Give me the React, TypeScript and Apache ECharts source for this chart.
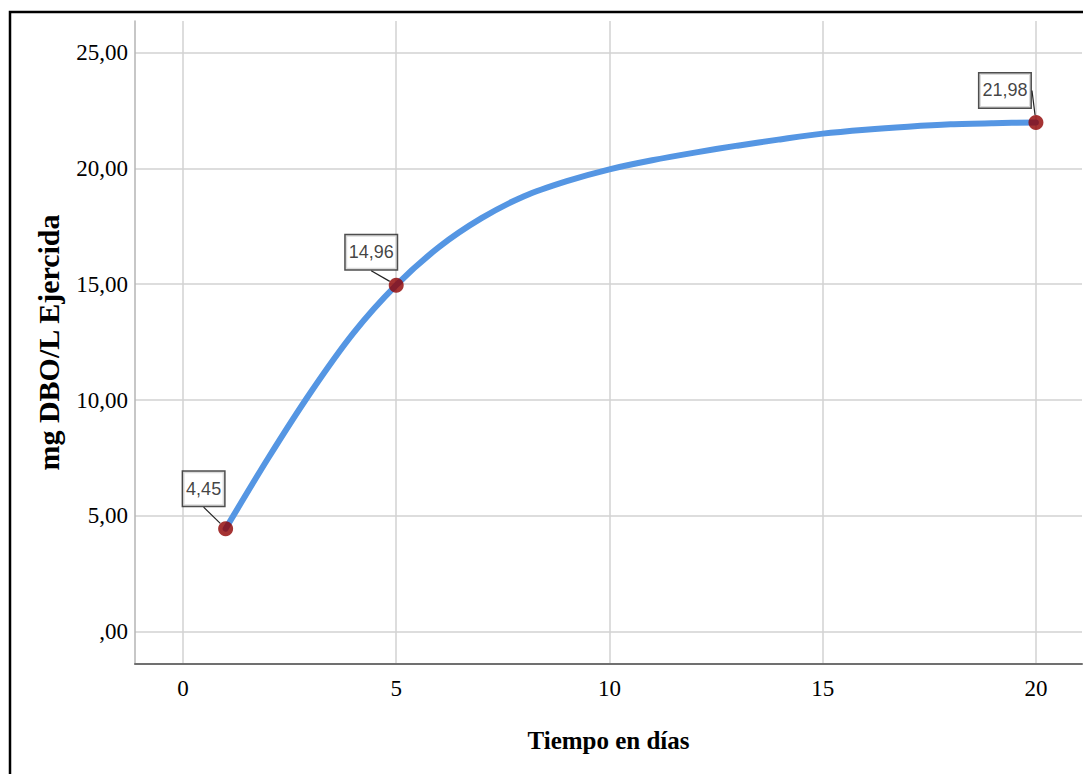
import React, { useEffect, useRef } from "react";
import * as echarts from "echarts";

// Measured points (días, mg DBO/L)
const pointDays = [1, 5, 20];
const pointValues = [4.45, 14.96, 21.98];

// Fitted curve
const curveDays = [1, 2, 3, 4, 5, 6, 7, 8, 9, 10, 11, 12, 13, 14, 15, 16, 17, 18, 19, 20];
const curveValues = [
  4.45, 7.5, 10.35, 12.9, 14.96, 16.6, 17.85, 18.8, 19.45, 19.96,
  20.35, 20.68, 20.98, 21.25, 21.5, 21.67, 21.8, 21.9, 21.95, 21.98,
];

// Tick labels
const xTicks = [0, 5, 10, 15, 20];
const yTicks = [0, 5, 10, 15, 20, 25];

const xName = "Tiempo en días";
const yName = "mg DBO/L Ejercida";

// label offsets (layout only)
const labelOffsets = [
  [-22, -40],
  [-25, -33],
  [-31, -32],
];

const fmt = (v: number) => {
  const s = v.toFixed(2).replace(".", ",");
  return s.startsWith("0,") ? s.slice(1) : s;
};

export default function App() {
  const ref = useRef<HTMLDivElement>(null);
  useEffect(() => {
    if (!ref.current) return;
    const chart = echarts.init(ref.current, undefined, { renderer: "svg" });
    const serif = "'Liberation Serif', 'Times New Roman', serif";
    chart.setOption({
      animation: false,
      backgroundColor: "#ffffff",
      grid: { left: 135, top: 21, right: 1, bottom: 110, containLabel: false },
      xAxis: {
        type: "value",
        min: -1.125,
        max: 21.08,
        name: xName,
        nameLocation: "middle",
        nameGap: 64,
        nameTextStyle: { fontFamily: serif, fontSize: 25, fontWeight: "bold", color: "#000" },
        axisLine: { show: true, onZero: false, lineStyle: { color: "#707070", width: 2 } },
        axisTick: { show: false, customValues: xTicks },
        axisLabel: {
          customValues: xTicks,
          fontFamily: serif,
          fontSize: 23,
          color: "#000",
          margin: 13,
          formatter: (v: number) => String(v),
        },
        splitLine: { show: true, lineStyle: { color: "#d2d2d2", width: 1.5 } },
      },
      yAxis: {
        type: "value",
        min: -1.39,
        max: 26.36,
        name: yName,
        nameLocation: "middle",
        nameGap: 72,
        nameTextStyle: { fontFamily: serif, fontSize: 30, fontWeight: "bold", color: "#000" },
        axisLine: { show: true, onZero: false, lineStyle: { color: "#b4b4b4", width: 1.5 } },
        axisTick: { show: false, customValues: yTicks },
        axisLabel: {
          customValues: yTicks,
          fontFamily: serif,
          fontSize: 23,
          color: "#000",
          margin: 7,
          formatter: (v: number) => fmt(v),
        },
        splitLine: { show: true, lineStyle: { color: "#d2d2d2", width: 1.5 } },
      },
      series: [
        {
          type: "line",
          data: curveDays.map((d, i) => [d, curveValues[i]]),
          smooth: 0.3,
          showSymbol: false,
          symbol: "none",
          lineStyle: { color: "#5596e3", width: 6, cap: "round" },
          z: 2,
          silent: true,
        },
        {
          type: "scatter",
          data: pointDays.map((d, i) => [d, pointValues[i]]),
          symbol: "circle",
          symbolSize: 15,
          itemStyle: { color: "#8e0000" },
          z: 3,
          label: {
            show: true,
            position: "inside",
            formatter: (p: any) => fmt(p.value[1]),
            fontFamily: "'Liberation Sans', Arial, sans-serif",
            fontSize: 18,
            lineHeight: 20,
            color: "#111",
            backgroundColor: "#ffffff",
            borderColor: "#222",
            borderWidth: 1.5,
            padding: [7, 3, 7, 3],
          },
          labelLine: { show: true, lineStyle: { color: "#222", width: 1.2 } },
          labelLayout: (params: any) => ({
            dx: labelOffsets[params.dataIndex][0],
            dy: labelOffsets[params.dataIndex][1],
          }),
        },
      ],
      graphic: [
        {
          type: "rect",
          shape: { x: 10, y: 12, width: 1200, height: 900 },
          style: { fill: "none", stroke: "#000", lineWidth: 2.5 },
          silent: true,
          z: 100,
        },
      ],
    });
    return () => chart.dispose();
  }, []);
  return (
    <div
      ref={ref}
      style={{ position: "fixed", left: 0, top: 0, width: 1083, height: 774 }}
    />
  );
}
